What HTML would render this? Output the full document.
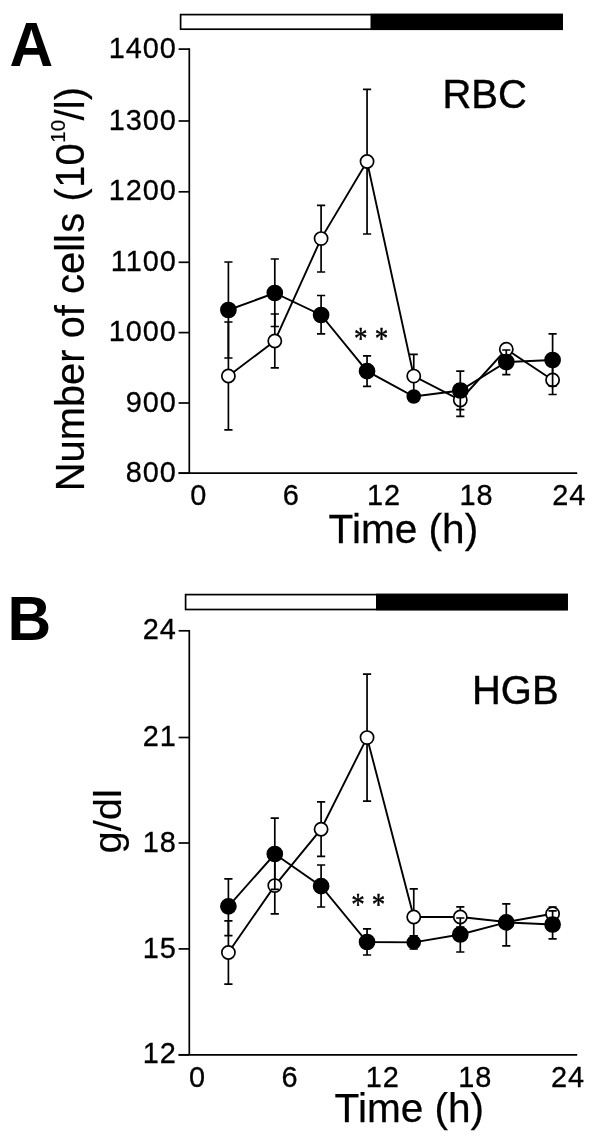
<!DOCTYPE html>
<html><head><meta charset="utf-8"><title>RBC and HGB over time</title>
<style>
html,body{margin:0;padding:0;background:#fff}
body{width:600px;height:1138px;overflow:hidden}
svg{display:block}
text{font-family:"Liberation Sans",sans-serif;fill:#000}
.t{font-size:28.9px;letter-spacing:0.95px;stroke:#000;stroke-width:0.3px}
.big{font-size:40.6px;stroke:#000;stroke-width:0.4px}
.panel{font-size:60.5px;font-weight:bold}
.star{font-family:"Liberation Serif",serif;font-size:27px;word-spacing:0.4px;stroke:#000;stroke-width:0.38px}
</style></head><body>
<svg width="600" height="1138" viewBox="0 0 600 1138">
<rect width="600" height="1138" fill="#fff"/>
<!-- Panel A -->
<rect x="180.6" y="14.6" width="381.4" height="14.6" fill="#fff" stroke="#000" stroke-width="1.7"/>
<rect x="370.5" y="13.75" width="192.35" height="16.3" fill="#000"/>
<path d="M189.3 48.25 V473.2 M178.6 473.2 H577.2" fill="none" stroke="#000" stroke-width="1.7"/>
<path d="M178.6 49.1 H189.3" stroke="#000" stroke-width="1.7"/>
<text transform="translate(176.80,57.70) scale(1,1.05)" text-anchor="end" class="t">1400</text>
<path d="M178.6 121.0 H189.3" stroke="#000" stroke-width="1.7"/>
<text transform="translate(176.80,129.60) scale(1,1.05)" text-anchor="end" class="t">1300</text>
<path d="M178.6 191.8 H189.3" stroke="#000" stroke-width="1.7"/>
<text transform="translate(176.80,200.40) scale(1,1.05)" text-anchor="end" class="t">1200</text>
<path d="M178.6 262.3 H189.3" stroke="#000" stroke-width="1.7"/>
<text transform="translate(176.80,270.90) scale(1,1.05)" text-anchor="end" class="t">1100</text>
<path d="M178.6 332.6 H189.3" stroke="#000" stroke-width="1.7"/>
<text transform="translate(176.80,341.20) scale(1,1.05)" text-anchor="end" class="t">1000</text>
<path d="M178.6 403.0 H189.3" stroke="#000" stroke-width="1.7"/>
<text transform="translate(176.80,411.60) scale(1,1.05)" text-anchor="end" class="t">900</text>
<path d="M178.6 473.2 H189.3" stroke="#000" stroke-width="1.7"/>
<text transform="translate(176.80,481.80) scale(1,1.05)" text-anchor="end" class="t">800</text>
<text transform="translate(198.65,505.40) scale(1,1.05)" text-anchor="middle" class="t">0</text>
<text transform="translate(291.29,505.40) scale(1,1.05)" text-anchor="middle" class="t">6</text>
<text transform="translate(383.93,505.40) scale(1,1.05)" text-anchor="middle" class="t">12</text>
<text transform="translate(476.57,505.40) scale(1,1.05)" text-anchor="middle" class="t">18</text>
<text transform="translate(569.21,505.40) scale(1,1.05)" text-anchor="middle" class="t">24</text>
<path d="M228.40 322.00V429.80M224.30 322.00h8.2M224.30 429.80h8.2M274.80 314.00V367.80M270.70 314.00h8.2M270.70 367.80h8.2M321.10 205.40V272.00M317.00 205.40h8.2M317.00 272.00h8.2M367.05 89.40V234.00M362.95 89.40h8.2M362.95 234.00h8.2M413.75 354.40V397.00M409.65 354.40h8.2M409.65 397.00h8.2M460.30 383.80V416.30M456.20 383.80h8.2M456.20 416.30h8.2M506.30 345.30V353.30M502.20 345.30h8.2M502.20 353.30h8.2M552.60 365.50V394.50M548.50 365.50h8.2M548.50 394.50h8.2" fill="none" stroke="#000" stroke-width="1.7"/>
<polyline points="228.40,376.00 274.80,341.00 321.10,238.60 367.05,161.50 413.75,376.10 460.30,400.00 506.30,349.30 552.60,380.00" fill="none" stroke="#000" stroke-width="1.9"/>
<circle cx="228.40" cy="376.00" r="6.6" fill="#fff" stroke="#000" stroke-width="1.7"/>
<circle cx="274.80" cy="341.00" r="6.6" fill="#fff" stroke="#000" stroke-width="1.7"/>
<circle cx="321.10" cy="238.60" r="6.6" fill="#fff" stroke="#000" stroke-width="1.7"/>
<circle cx="367.05" cy="161.50" r="6.6" fill="#fff" stroke="#000" stroke-width="1.7"/>
<circle cx="413.75" cy="376.10" r="6.6" fill="#fff" stroke="#000" stroke-width="1.7"/>
<circle cx="460.30" cy="400.00" r="6.6" fill="#fff" stroke="#000" stroke-width="1.7"/>
<circle cx="506.30" cy="349.30" r="6.6" fill="#fff" stroke="#000" stroke-width="1.7"/>
<circle cx="552.60" cy="380.00" r="6.6" fill="#fff" stroke="#000" stroke-width="1.7"/>
<path d="M228.40 262.00V358.00M224.30 262.00h8.2M224.30 358.00h8.2M274.80 259.00V326.50M270.70 259.00h8.2M270.70 326.50h8.2M321.10 295.50V333.80M317.00 295.50h8.2M317.00 333.80h8.2M367.05 355.80V386.30M362.95 355.80h8.2M362.95 386.30h8.2M413.75 392.00V401.00M409.65 392.00h8.2M409.65 401.00h8.2M460.30 371.20V409.60M456.20 371.20h8.2M456.20 409.60h8.2M506.30 350.00V374.60M502.20 350.00h8.2M502.20 374.60h8.2M552.60 333.80V386.20M548.50 333.80h8.2M548.50 386.20h8.2" fill="none" stroke="#000" stroke-width="1.7"/>
<polyline points="228.40,310.00 274.80,293.00 321.10,315.00 367.05,371.20 413.75,396.50 460.30,390.50 506.30,362.00 552.60,360.00" fill="none" stroke="#000" stroke-width="1.9"/>
<circle cx="228.40" cy="310.00" r="7.5" fill="#000" stroke="#000" stroke-width="1.7"/>
<circle cx="274.80" cy="293.00" r="7.5" fill="#000" stroke="#000" stroke-width="1.7"/>
<circle cx="321.10" cy="315.00" r="7.5" fill="#000" stroke="#000" stroke-width="1.7"/>
<circle cx="367.05" cy="371.20" r="7.5" fill="#000" stroke="#000" stroke-width="1.7"/>
<circle cx="413.75" cy="396.50" r="6.45" fill="#000" stroke="#000" stroke-width="1.7"/>
<circle cx="460.30" cy="390.50" r="7.5" fill="#000" stroke="#000" stroke-width="1.7"/>
<circle cx="506.30" cy="362.00" r="7.5" fill="#000" stroke="#000" stroke-width="1.7"/>
<circle cx="552.60" cy="360.00" r="7.5" fill="#000" stroke="#000" stroke-width="1.7"/>
<text transform="translate(9.60,66.30) scale(1,1.045)" text-anchor="start" class="panel">A</text>
<text transform="translate(442.40,107.50) scale(1,1.035)" text-anchor="start" class="big" style="font-size:40px">RBC</text>
<text transform="translate(84.2,491.3) rotate(-90) scale(1,1.0)" class="big" style="font-size:39.9px;stroke-width:0.2px">Number of cell<tspan dx="1.5">s</tspan> (<tspan dx="0.5">10</tspan><tspan dy="-19.3" dx="0.8" style="font-size:20.4px">10</tspan><tspan dy="19.3" dx="-0.6">/</tspan><tspan dx="0.3">l)</tspan></text>
<text transform="translate(328.60,542.50) scale(1,1.01)" text-anchor="start" class="big" style="stroke-width:0.25px">Time (h)</text>
<text transform="translate(354.10,349.40) scale(1,1.15)" text-anchor="start" class="star">* *</text>
<!-- Panel B -->
<rect x="185.6" y="594.6" width="381.4" height="14.899999999999977" fill="#fff" stroke="#000" stroke-width="1.7"/>
<rect x="376" y="593.75" width="191.85" height="16.599999999999977" fill="#000"/>
<path d="M189.3 629.95 V1054.8 M178.6 1054.8 H577.2" fill="none" stroke="#000" stroke-width="1.7"/>
<path d="M178.6 630.8 H189.3" stroke="#000" stroke-width="1.7"/>
<text transform="translate(176.80,639.40) scale(1,1.05)" text-anchor="end" class="t">24</text>
<path d="M178.6 737.5 H189.3" stroke="#000" stroke-width="1.7"/>
<text transform="translate(176.80,746.10) scale(1,1.05)" text-anchor="end" class="t">21</text>
<path d="M178.6 843.0 H189.3" stroke="#000" stroke-width="1.7"/>
<text transform="translate(176.80,851.60) scale(1,1.05)" text-anchor="end" class="t">18</text>
<path d="M178.6 948.9 H189.3" stroke="#000" stroke-width="1.7"/>
<text transform="translate(176.80,957.50) scale(1,1.05)" text-anchor="end" class="t">15</text>
<path d="M178.6 1054.8 H189.3" stroke="#000" stroke-width="1.7"/>
<text transform="translate(176.80,1063.40) scale(1,1.05)" text-anchor="end" class="t">12</text>
<text transform="translate(197.45,1087.00) scale(1,1.05)" text-anchor="middle" class="t">0</text>
<text transform="translate(290.09,1087.00) scale(1,1.05)" text-anchor="middle" class="t">6</text>
<text transform="translate(382.73,1087.00) scale(1,1.05)" text-anchor="middle" class="t">12</text>
<text transform="translate(475.37,1087.00) scale(1,1.05)" text-anchor="middle" class="t">18</text>
<text transform="translate(568.01,1087.00) scale(1,1.05)" text-anchor="middle" class="t">24</text>
<path d="M228.40 920.80V984.20M224.30 920.80h8.2M224.30 984.20h8.2M274.80 855.30V913.80M270.70 855.30h8.2M270.70 913.80h8.2M321.10 801.80V856.30M317.00 801.80h8.2M317.00 856.30h8.2M367.05 674.20V801.20M362.95 674.20h8.2M362.95 801.20h8.2M413.75 888.80V945.00M409.65 888.80h8.2M409.65 945.00h8.2M460.30 906.80V927.20M456.20 906.80h8.2M456.20 927.20h8.2M506.30 917.00V927.00M502.20 917.00h8.2M502.20 927.00h8.2M552.60 907.00V920.60M548.50 907.00h8.2M548.50 920.60h8.2" fill="none" stroke="#000" stroke-width="1.7"/>
<polyline points="228.40,952.50 274.80,885.60 321.10,829.20 367.05,737.60 413.75,917.00 460.30,917.00 506.30,922.00 552.60,913.80" fill="none" stroke="#000" stroke-width="1.9"/>
<circle cx="228.40" cy="952.50" r="6.6" fill="#fff" stroke="#000" stroke-width="1.7"/>
<circle cx="274.80" cy="885.60" r="6.6" fill="#fff" stroke="#000" stroke-width="1.7"/>
<circle cx="321.10" cy="829.20" r="6.6" fill="#fff" stroke="#000" stroke-width="1.7"/>
<circle cx="367.05" cy="737.60" r="6.6" fill="#fff" stroke="#000" stroke-width="1.7"/>
<circle cx="413.75" cy="917.00" r="6.6" fill="#fff" stroke="#000" stroke-width="1.7"/>
<circle cx="460.30" cy="917.00" r="6.6" fill="#fff" stroke="#000" stroke-width="1.7"/>
<circle cx="506.30" cy="922.00" r="6.6" fill="#fff" stroke="#000" stroke-width="1.7"/>
<circle cx="552.60" cy="913.80" r="6.6" fill="#fff" stroke="#000" stroke-width="1.7"/>
<path d="M228.40 878.80V935.70M224.30 878.80h8.2M224.30 935.70h8.2M274.80 818.20V889.40M270.70 818.20h8.2M270.70 889.40h8.2M321.10 865.00V907.00M317.00 865.00h8.2M317.00 907.00h8.2M367.05 928.80V955.00M362.95 928.80h8.2M362.95 955.00h8.2M413.75 935.80V949.00M409.65 935.80h8.2M409.65 949.00h8.2M460.30 918.00V952.00M456.20 918.00h8.2M456.20 952.00h8.2M506.30 903.80V945.80M502.20 903.80h8.2M502.20 945.80h8.2M552.60 910.80V938.80M548.50 910.80h8.2M548.50 938.80h8.2" fill="none" stroke="#000" stroke-width="1.7"/>
<polyline points="228.40,906.30 274.80,854.00 321.10,886.20 367.05,942.00 413.75,942.40 460.30,934.50 506.30,922.40 552.60,924.50" fill="none" stroke="#000" stroke-width="1.9"/>
<circle cx="228.40" cy="906.30" r="7.5" fill="#000" stroke="#000" stroke-width="1.7"/>
<circle cx="274.80" cy="854.00" r="7.5" fill="#000" stroke="#000" stroke-width="1.7"/>
<circle cx="321.10" cy="886.20" r="7.5" fill="#000" stroke="#000" stroke-width="1.7"/>
<circle cx="367.05" cy="942.00" r="7.5" fill="#000" stroke="#000" stroke-width="1.7"/>
<circle cx="413.75" cy="942.40" r="6.45" fill="#000" stroke="#000" stroke-width="1.7"/>
<circle cx="460.30" cy="934.50" r="7.5" fill="#000" stroke="#000" stroke-width="1.7"/>
<circle cx="506.30" cy="922.40" r="7.5" fill="#000" stroke="#000" stroke-width="1.7"/>
<circle cx="552.60" cy="924.50" r="7.5" fill="#000" stroke="#000" stroke-width="1.7"/>
<text transform="translate(7.40,640.20) scale(1,1.045)" text-anchor="start" class="panel">B</text>
<text transform="translate(471.90,703.50) scale(1,1.025)" text-anchor="start" class="big" style="font-size:40px">HGB</text>
<text transform="translate(120.70,853.40) rotate(-90) scale(1,0.985)" text-anchor="start" class="big" style="font-size:39.9px;stroke-width:0.15px">g/dl</text>
<text transform="translate(334.60,1122.40)" text-anchor="start" class="big" style="stroke-width:0.25px">Time (h)</text>
<text transform="translate(351.20,915.40) scale(1,1.15)" text-anchor="start" class="star">* *</text>
</svg>
</body></html>
